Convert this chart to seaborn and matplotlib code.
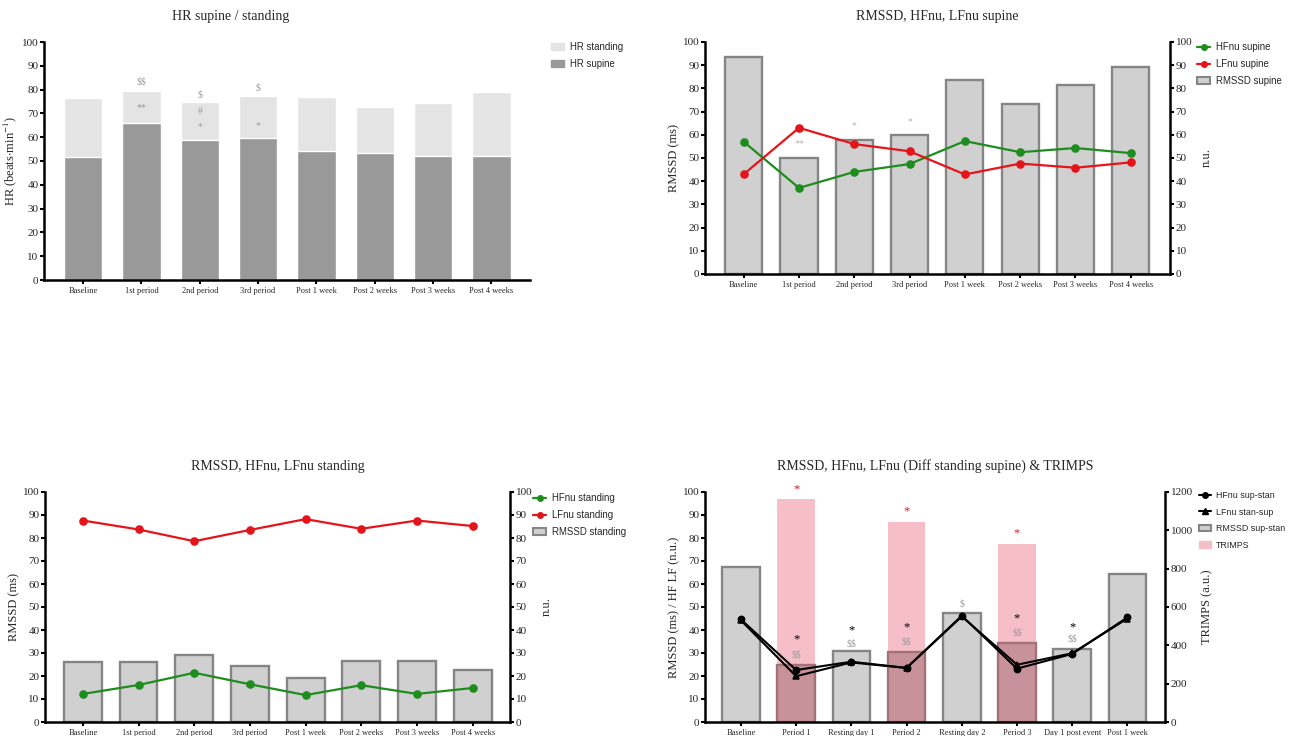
import numpy as np
import pandas as pd
import matplotlib
matplotlib.use("Agg")
import matplotlib.pyplot as plt
from matplotlib.lines import Line2D
from matplotlib.patches import Patch
import seaborn as sns

# ---- data ----
periods = ["Baseline", "1st period", "2nd period", "3rd period",
           "Post 1 week", "Post 2 weeks", "Post 3 weeks", "Post 4 weeks"]

hr_standing = [76.6, 79.4, 74.7, 77.2, 76.8, 72.7, 74.5, 79.0]
hr_supine = [51.7, 66.0, 58.9, 59.7, 54.0, 53.3, 52.2, 51.9]
hr_marks = [("1st period", 83.2, "$$"), ("1st period", 72.3, "**"),
            ("2nd period", 77.8, "$"), ("2nd period", 70.6, "#"),
            ("2nd period", 64.3, "*"), ("3rd period", 80.6, "$"),
            ("3rd period", 65.0, "*")]

rmssd_supine = [93.7, 49.9, 57.6, 59.7, 83.5, 73.1, 81.5, 89.3]
hfnu_supine = [57.0, 37.1, 44.0, 47.4, 57.3, 52.5, 54.3, 52.1]
lfnu_supine = [43.0, 63.0, 56.0, 52.9, 42.9, 47.6, 45.8, 48.1]
supine_marks = [("1st period", 56.2, "**"), ("2nd period", 63.8, "*"),
                ("3rd period", 65.7, "*")]

rmssd_standing = [26.2, 26.2, 29.1, 24.5, 19.3, 26.6, 26.6, 22.7]
hfnu_standing = [12.2, 16.1, 21.4, 16.4, 11.7, 16.0, 12.2, 14.8]
lfnu_standing = [87.6, 83.7, 78.6, 83.5, 88.2, 84.0, 87.6, 85.2]

events = ["Baseline", "Period 1", "Resting day 1", "Period 2",
          "Resting day 2", "Period 3", "Day 1 post event", "Post 1 week"]
rmssd_diff = [67.6, 24.9, 30.8, 30.5, 47.3, 34.5, 31.8, 64.2]
hfnu_diff = [44.6, 22.6, 26.2, 23.5, 46.2, 23.2, 29.6, 45.5]
lfnu_diff = [44.2, 19.9, 25.9, 23.5, 45.9, 24.9, 29.9, 45.0]
trimps = [0, 1165, 0, 1043, 0, 927, 0, 0]
red_marks = [("Period 1", 101.0, "*"), ("Period 2", 91.6, "*"), ("Period 3", 82.0, "*")]
black_marks = [("Period 1", 36.0, "*"), ("Resting day 1", 39.9, "*"),
               ("Period 2", 41.0, "*"), ("Period 3", 45.1, "*"),
               ("Day 1 post event", 41.0, "*")]
gray_marks = [("Period 1", 29.2, "$$"), ("Resting day 1", 34.1, "$$"),
              ("Period 2", 34.8, "$$"), ("Period 3", 38.6, "$$"),
              ("Day 1 post event", 36.0, "$$"), ("Resting day 2", 51.5, "$")]

# ---- style ----
sns.set_theme(style="ticks")
plt.rcParams["font.family"] = ["Liberation Serif", "DejaVu Serif"]
plt.rcParams["mathtext.fontset"] = "stix"

GREEN = "#1f8c1f"
RED = "#e3151b"
BAR = "#d0d0d0"
BAR_EDGE = "#858585"
PINK = "#f6bec7"
ROSE = "#c8929a"
ROSE_EDGE = "#a27279"

W, H = 1290, 736
fig = plt.figure(figsize=(W / 100, H / 100), dpi=100)


def add_panel(x0, y0, x1, y1):
    return fig.add_axes([x0 / W, 1 - y1 / H, (x1 - x0) / W, (y1 - y0) / H])


def finish(ax, cats, xlim, ylabel, title, title_x=0.5):
    ax.set_xlim(*xlim)
    ax.set_ylim(0, 100)
    ax.set_yticks(np.arange(0, 101, 10))
    ax.set_xticks(range(len(cats)))
    ax.set_xticklabels(cats, fontsize=6)
    ax.set_xlabel("")
    ax.set_ylabel(ylabel, fontsize=9, labelpad=2)
    ax.set_title(title, fontsize=10, pad=16, x=title_x)
    for s in ["top", "right"]:
        ax.spines[s].set_visible(False)
    for s in ["left", "bottom"]:
        ax.spines[s].set_linewidth(1.8)
        ax.spines[s].set_color("black")
    ax.tick_params(axis="both", width=1.5, length=3, color="black")
    ax.tick_params(axis="y", labelsize=8, pad=1)
    ax.tick_params(axis="x", pad=2)


def right_axis(ax2, ylim, ticks, label):
    ax2.set_ylim(*ylim)
    ax2.set_yticks(ticks)
    for s in ["top", "left", "bottom"]:
        ax2.spines[s].set_visible(False)
    ax2.spines["right"].set_linewidth(1.8)
    ax2.spines["right"].set_color("black")
    ax2.tick_params(axis="y", width=1.5, length=3, color="black", labelsize=8, pad=1)
    ax2.set_ylabel(label, fontsize=9, labelpad=6)


def marks(ax, cats, items, color, size=7):
    for cat, y, s in items:
        ax.text(cats.index(cat), y, s, ha="center", va="center", color=color,
                fontsize=size, parse_math=False, zorder=5)


def legend(handles, labels, x, y, size=6.9, handlelength=1.4, spacing=0.72):
    fig.legend(handles, labels, loc="upper left", bbox_to_anchor=(x / W, 1 - y / H),
               frameon=False, prop={"family": ["Liberation Sans", "DejaVu Sans"], "size": size},
               borderpad=0, borderaxespad=0, handlelength=handlelength,
               handletextpad=0.6, labelspacing=spacing)


# ---- panel 1: HR supine / standing ----
ax = add_panel(44, 42, 530, 280)
sns.barplot(x=periods, y=hr_standing, color="#e4e4e4", saturation=1, width=0.66,
            errorbar=None, ax=ax)
sns.barplot(x=periods, y=hr_supine, color="#999999", saturation=1, width=0.66,
            errorbar=None, ax=ax)
marks(ax, periods, hr_marks, "#9a9a9a")
finish(ax, periods, (-0.67, 7.66), r"HR (beats$\cdot$min$^{-1}$)",
       "HR supine / standing", title_x=0.383)
legend([Patch(color="#e4e4e4"), Patch(color="#999999")],
       ["HR standing", "HR supine"], 551, 42)

# ---- panel 2: supine ----
ax = add_panel(705, 42, 1170, 274)
sns.barplot(x=periods, y=rmssd_supine, color=BAR, saturation=1, width=0.67,
            edgecolor=BAR_EDGE, linewidth=1.7, errorbar=None, ax=ax)
marks(ax, periods, supine_marks, "#b5b5b5")
ax2 = ax.twinx()
sns.pointplot(x=periods, y=hfnu_supine, color=GREEN, markers="o", markersize=5,
              linewidth=1.6, errorbar=None, ax=ax2)
sns.pointplot(x=periods, y=lfnu_supine, color=RED, markers="o", markersize=5,
              linewidth=1.6, errorbar=None, ax=ax2)
finish(ax, periods, (-0.70, 7.71), "RMSSD (ms)", "RMSSD, HFnu, LFnu supine")
right_axis(ax2, (0, 100), np.arange(0, 101, 10), "n.u.")
ax.set_xlim(-0.70, 7.71)
legend([Line2D([], [], color=GREEN, marker="o", ms=4, lw=1.6),
        Line2D([], [], color=RED, marker="o", ms=4, lw=1.6),
        Patch(facecolor=BAR, edgecolor=BAR_EDGE, lw=1.5)],
       ["HFnu supine", "LFnu supine", "RMSSD supine"], 1197, 42)

# ---- panel 3: standing ----
ax = add_panel(45, 492, 510, 722)
sns.barplot(x=periods, y=rmssd_standing, color=BAR, saturation=1, width=0.68,
            edgecolor=BAR_EDGE, linewidth=1.7, errorbar=None, ax=ax)
ax2 = ax.twinx()
sns.pointplot(x=periods, y=hfnu_standing, color=GREEN, markers="o", markersize=5,
              linewidth=1.6, errorbar=None, ax=ax2)
sns.pointplot(x=periods, y=lfnu_standing, color=RED, markers="o", markersize=5,
              linewidth=1.6, errorbar=None, ax=ax2)
finish(ax, periods, (-0.68, 7.67), "RMSSD (ms)", "RMSSD, HFnu, LFnu standing")
right_axis(ax2, (0, 100), np.arange(0, 101, 10), "n.u.")
ax.set_xlim(-0.68, 7.67)
legend([Line2D([], [], color=GREEN, marker="o", ms=4, lw=1.6),
        Line2D([], [], color=RED, marker="o", ms=4, lw=1.6),
        Patch(facecolor=BAR, edgecolor=BAR_EDGE, lw=1.5)],
       ["HFnu standing", "LFnu standing", "RMSSD standing"], 533, 493)

# ---- panel 4: differences & TRIMPS ----
ax = add_panel(705, 492, 1165, 722)
ax2 = ax.twinx()
sns.barplot(x=events, y=trimps, color=PINK, saturation=1, width=0.68,
            linewidth=0, errorbar=None, ax=ax2)
faces = [ROSE if t > 0 else BAR for t in trimps]
sns.barplot(x=events, y=rmssd_diff, hue=events, palette=faces, legend=False,
            saturation=1, width=0.68, linewidth=1.7, errorbar=None, ax=ax)
for patch, t in zip(ax.patches, trimps):
    patch.set_edgecolor(ROSE_EDGE if t > 0 else BAR_EDGE)
sns.pointplot(x=events, y=hfnu_diff, color="black", markers="o", markersize=4.5,
              linewidth=1.5, errorbar=None, ax=ax)
sns.pointplot(x=events, y=lfnu_diff, color="black", markers="^", markersize=4.5,
              linewidth=1.5, errorbar=None, ax=ax)
ax.set_zorder(ax2.get_zorder() + 1)
ax.patch.set_visible(False)
marks(ax, events, red_marks, RED, size=9)
marks(ax, events, black_marks, "black", size=9)
marks(ax, events, gray_marks, "#9a9a9a")
finish(ax, events, (-0.65, 7.68), "RMSSD (ms) / HF LF (n.u.)",
       "RMSSD, HFnu, LFnu (Diff standing supine) & TRIMPS")
right_axis(ax2, (0, 1200), np.arange(0, 1201, 200), "TRIMPS (a.u.)")
ax.set_xlim(-0.65, 7.68)
legend([Line2D([], [], color="black", marker="o", ms=4, lw=1.5),
        Line2D([], [], color="black", marker="^", ms=4, lw=1.5),
        Patch(facecolor=BAR, edgecolor=BAR_EDGE, lw=1.5),
        Patch(color=PINK)],
       ["HFnu sup-stan", "LFnu stan-sup", "RMSSD sup-stan", "TRIMPS"], 1199, 491,
       size=6.4, handlelength=1.3, spacing=0.85)

fig.savefig("out.png", dpi=100)
